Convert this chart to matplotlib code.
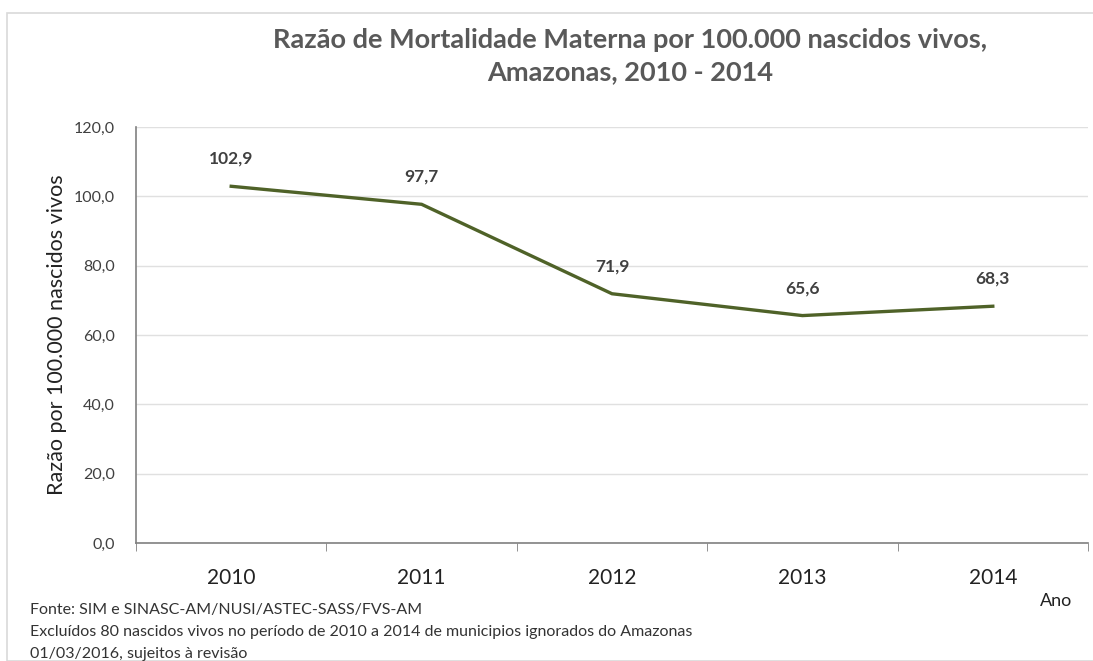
import matplotlib
matplotlib.use("Agg")
import matplotlib.pyplot as plt
from matplotlib.patches import Rectangle
from matplotlib.ticker import FuncFormatter, FixedLocator

years = ["2010", "2011", "2012", "2013", "2014"]
values = [102.9, 97.7, 71.9, 65.6, 68.3]
yticks = [0, 20, 40, 60, 80, 100, 120]

title = "Razão de Mortalidade Materna por 100.000 nascidos vivos,\nAmazonas, 2010 - 2014"
ylabel = "Razão por 100.000 nascidos vivos"
xlabel = "Ano"
notes = [
    "Fonte: SIM e SINASC-AM/NUSI/ASTEC-SASS/FVS-AM",
    "Excluídos 80 nascidos vivos no período de 2010 a 2014 de municipios ignorados do Amazonas",
    "01/03/2016, sujeitos à revisão",
]

plt.rcParams["font.family"] = ["Lato", "DejaVu Sans"]
txt = "#404040"

fig = plt.figure(figsize=(10.93, 6.61), dpi=100)
fig.patches.append(Rectangle((7 / 1093, 0), 1.0, 1 - 13 / 661, transform=fig.transFigure,
                             fill=False, edgecolor="#D9D9D9", linewidth=1.2))
ax = fig.add_axes([136 / 1093, 1 - 543 / 661, (1088 - 136) / 1093, (543 - 127) / 661])

x = list(range(len(years)))
ax.plot(x, values, color="#4F6228", linewidth=2.4, solid_joinstyle="miter")
for xi, v in zip(x, values):
    ax.annotate(f"{v:.1f}".replace(".", ","), (xi, v), xytext=(0, 14), textcoords="offset points",
                ha="center", va="bottom", fontsize=12.5, fontweight="bold", color=txt)

ax.set_xlim(-0.5, len(years) - 0.5)
ax.set_ylim(0, 120)
ax.set_yticks(yticks)
ax.yaxis.set_major_formatter(FuncFormatter(lambda v, p: f"{v:.1f}".replace(".", ",")))
ax.tick_params(axis="y", length=0, labelsize=11.5, labelcolor=txt, pad=15)
ax.grid(axis="y", color="#E0E0E0", linewidth=1)
ax.set_axisbelow(True)

ax.set_xticks(x)
ax.set_xticklabels(years)
ax.xaxis.set_minor_locator(FixedLocator([i - 0.5 for i in range(len(years) + 1)]))
ax.tick_params(axis="x", which="major", length=0, labelsize=15, labelcolor="#222222", pad=18)
ax.tick_params(axis="x", which="minor", length=6, color="#808080", direction="out")

for s in ["top", "right"]:
    ax.spines[s].set_visible(False)
ax.spines["left"].set_color("#808080")
ax.spines["bottom"].set_color("#808080")
ax.spines["left"].set_linewidth(1.2)
ax.spines["bottom"].set_linewidth(1.2)

ax.set_ylabel(ylabel, fontsize=15.5, color="#222222", labelpad=5)

fig.text(630 / 1093, 1 - 56 / 661, title, ha="center", va="center", fontsize=19.5,
         fontweight="bold", color="#595959", linespacing=1.45)
fig.text(1056 / 1093, 1 - 601 / 661, xlabel, ha="center", va="center", fontsize=13, color="#222222")
for i, n in enumerate(notes):
    fig.text(30 / 1093, 1 - (610 + 22 * i) / 661, n, ha="left", va="center", fontsize=11.5, color="#333333")

fig.savefig("out.png", dpi=100)
